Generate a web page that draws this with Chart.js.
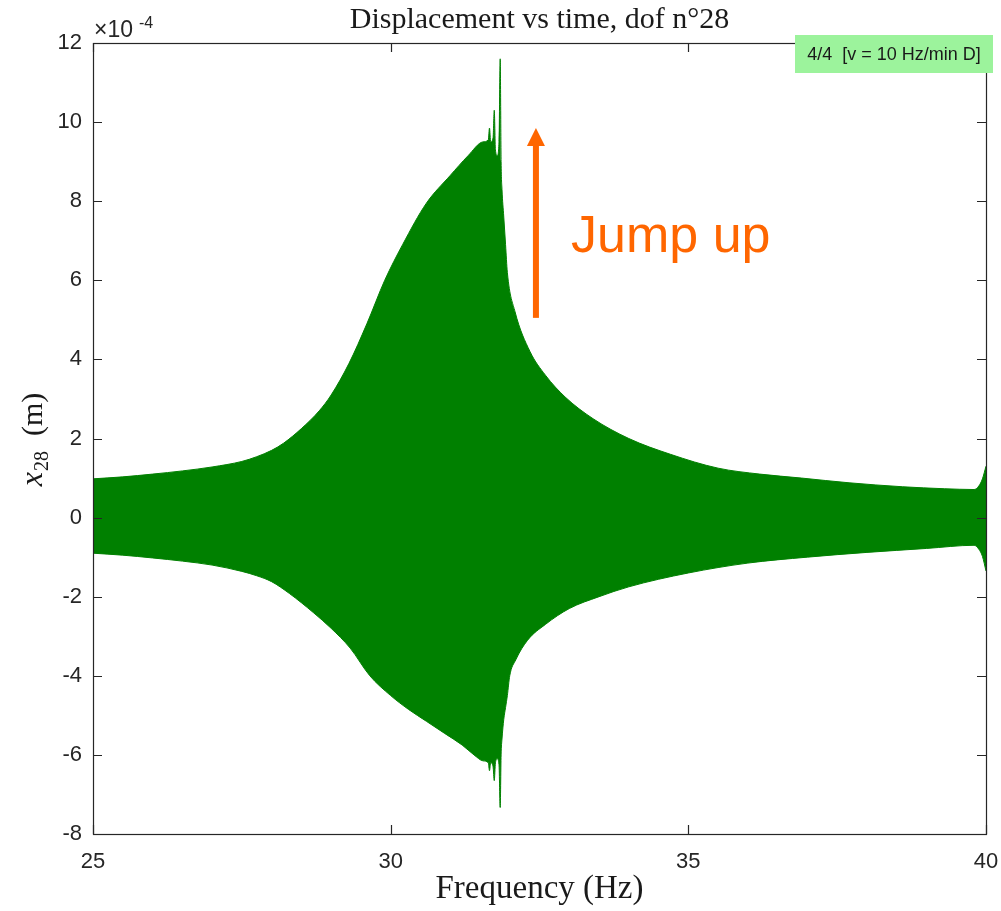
<!DOCTYPE html>
<html lang="en">
<head>
    <meta charset="UTF-8">
    <title>Displacement vs time, dof n°28</title>
    <script src="https://cdn.jsdelivr.net/npm/chart.js"></script>
    <style>
        body { margin: 0; padding: 0; background: #ffffff; }
        #wrap { width: 1001px; height: 911px; position: relative; }
    </style>
</head>
<body>
    <div id="wrap">
        <canvas id="chartCanvas" width="1001" height="911"></canvas>
    </div>

    <script>
        // envelope of the response, values in 1e-4 m
        const upperFreq = [25.0, 25.5, 26.0, 26.5, 27.0, 27.5, 27.75, 28.0, 28.2, 28.5, 28.8, 29.0, 29.3, 29.6, 29.9, 30.2, 30.6, 31.0, 31.3, 31.55, 31.64, 31.66, 31.68, 31.72, 31.74, 31.76, 31.79, 31.82, 31.84, 31.855, 31.87, 31.9, 31.93, 31.96, 32.09, 32.34, 32.6, 32.93, 33.4, 34.0, 34.7, 35.5, 36.2, 36.9, 37.7, 38.6, 39.3, 39.8, 39.88, 39.94, 40.0];
        const upperVal  = [0.98, 1.03, 1.1, 1.18, 1.28, 1.42, 1.54, 1.7, 1.88, 2.25, 2.7, 3.1, 3.9, 4.9, 6.0, 6.9, 7.95, 8.65, 9.15, 9.5, 9.55, 9.85, 9.5, 9.6, 10.3, 9.3, 9.15, 9.5, 11.6, 9.0, 8.3, 7.6, 6.9, 6.2, 5.2, 4.2, 3.6, 3.05, 2.5, 2.0, 1.6, 1.25, 1.1, 1.0, 0.88, 0.78, 0.73, 0.71, 0.8, 0.98, 1.3];

        const lowerFreq = [25.0, 25.5, 26.0, 26.5, 27.0, 27.5, 27.75, 28.0, 28.3, 28.7, 29.0, 29.32, 29.65, 30.0, 30.3, 30.6, 30.9, 31.2, 31.4, 31.55, 31.64, 31.66, 31.68, 31.72, 31.74, 31.76, 31.79, 31.82, 31.84, 31.855, 31.87, 31.9, 31.93, 31.96, 32.0, 32.1, 32.3, 32.6, 33.0, 33.5, 34.0, 35.0, 36.0, 37.0, 38.0, 39.0, 39.8, 39.88, 39.94, 40.0];
        const lowerVal  = [-0.9, -0.95, -1.02, -1.1, -1.2, -1.36, -1.47, -1.62, -1.92, -2.4, -2.8, -3.3, -4.0, -4.5, -4.85, -5.15, -5.45, -5.75, -6.0, -6.15, -6.2, -6.4, -6.2, -6.3, -6.65, -6.2, -6.1, -6.25, -7.33, -6.0, -5.6, -5.1, -4.8, -4.5, -4.0, -3.6, -3.1, -2.7, -2.3, -2.0, -1.75, -1.4, -1.15, -1.0, -0.88, -0.78, -0.7, -0.8, -0.98, -1.35];

        const xTicks = [25, 30, 35, 40];
        const yTicks = [-8, -6, -4, -2, 0, 2, 4, 6, 8, 10, 12];

        // "Jump up" annotation, in data units
        const arrowX = 32.44;
        const arrowFrom = 5.05;
        const arrowTo = 9.85;
        const noteX = 33.03;
        const noteY = 6.72;

        const green = '#008000';
        const orange = '#ff6600';
        const axisColor = '#262626';

        function toPoints(xs, ys) {
            return xs.map((x, i) => ({ x: x, y: ys[i] }));
        }

        // box, inward ticks and all the extra text
        const decorPlugin = {
            id: 'decor',
            afterDatasetsDraw(chart) {
                const ctx = chart.ctx;
                const a = chart.chartArea;
                const xs = chart.scales.x;
                const ys = chart.scales.y;
                ctx.save();

                // arrow
                const ax = xs.getPixelForValue(arrowX);
                const y0 = ys.getPixelForValue(arrowFrom);
                const y1 = ys.getPixelForValue(arrowTo);
                ctx.fillStyle = orange;
                ctx.fillRect(ax - 3, y1 + 16, 6, y0 - y1 - 16);
                ctx.beginPath();
                ctx.moveTo(ax, y1);
                ctx.lineTo(ax + 9, y1 + 18);
                ctx.lineTo(ax - 9, y1 + 18);
                ctx.closePath();
                ctx.fill();

                ctx.font = '52px "Liberation Sans", Arial, sans-serif';
                ctx.textAlign = 'left';
                ctx.textBaseline = 'alphabetic';
                ctx.fillText('Jump up', xs.getPixelForValue(noteX), ys.getPixelForValue(noteY));

                // axes box
                ctx.strokeStyle = axisColor;
                ctx.lineWidth = 1.2;
                ctx.strokeRect(a.left + 0.5, a.top + 0.5, a.right - a.left, a.bottom - a.top);
                ctx.beginPath();
                xTicks.forEach(v => {
                    const px = Math.round(xs.getPixelForValue(v)) + 0.5;
                    ctx.moveTo(px, a.bottom); ctx.lineTo(px, a.bottom - 9);
                    ctx.moveTo(px, a.top); ctx.lineTo(px, a.top + 9);
                });
                yTicks.forEach(v => {
                    const py = Math.round(ys.getPixelForValue(v)) + 0.5;
                    ctx.moveTo(a.left, py); ctx.lineTo(a.left + 9, py);
                    ctx.moveTo(a.right, py); ctx.lineTo(a.right - 9, py);
                });
                ctx.stroke();

                // legend-like label top right
                ctx.fillStyle = '#9cf39c';
                ctx.fillRect(795, 35, 198, 38);
                ctx.fillStyle = '#1a1a1a';
                ctx.font = '18px "Liberation Sans", Arial, sans-serif';
                ctx.textBaseline = 'middle';
                ctx.textAlign = 'center';
                ctx.fillText('4/4  [v = 10 Hz/min D]', 894, 55);

                // exponent
                ctx.fillStyle = axisColor;
                ctx.textAlign = 'left';
                ctx.textBaseline = 'alphabetic';
                ctx.font = '23px "Liberation Sans", Arial, sans-serif';
                ctx.fillText('\u00d710', 94, 37);
                ctx.font = '16px "Liberation Sans", Arial, sans-serif';
                ctx.fillText('-4', 139, 28);

                // title
                ctx.fillStyle = '#1a1a1a';
                ctx.textAlign = 'center';
                ctx.font = '30px "Liberation Serif", serif';
                ctx.fillText('Displacement vs time, dof n\u00b028', (a.left + a.right) / 2, 28);

                // x title
                ctx.font = '33px "Liberation Serif", serif';
                ctx.fillText('Frequency (Hz)', (a.left + a.right) / 2, 898);

                // y title, rotated, with subscript
                ctx.translate(42, 440);
                ctx.rotate(-Math.PI / 2);
                ctx.textAlign = 'left';
                ctx.font = 'italic 32px "Liberation Serif", serif';
                const wX = ctx.measureText('x').width;
                ctx.font = '20px "Liberation Serif", serif';
                const wSub = ctx.measureText('28').width;
                ctx.font = '30px "Liberation Serif", serif';
                const wM = ctx.measureText('  (m)').width;
                let sx = -(wX + wSub + wM) / 2;
                ctx.font = 'italic 32px "Liberation Serif", serif';
                ctx.fillText('x', sx, 0);
                sx += wX + 1;
                ctx.font = '20px "Liberation Serif", serif';
                ctx.fillText('28', sx, 6);
                sx += wSub;
                ctx.font = '30px "Liberation Serif", serif';
                ctx.fillText('  (m)', sx, 0);

                ctx.restore();
            }
        };

        const ctx = document.getElementById('chartCanvas').getContext('2d');
        const chart = new Chart(ctx, {
            type: 'line',
            data: {
                datasets: [{
                    label: 'upper',
                    data: toPoints(upperFreq, upperVal),
                    borderColor: green,
                    borderWidth: 1,
                    pointRadius: 0,
                    cubicInterpolationMode: 'monotone',
                    fill: false
                }, {
                    label: 'lower',
                    data: toPoints(lowerFreq, lowerVal),
                    borderColor: green,
                    backgroundColor: green,
                    borderWidth: 1,
                    pointRadius: 0,
                    cubicInterpolationMode: 'monotone',
                    fill: '-1'
                }]
            },
            options: {
                responsive: false,
                animation: false,
                layout: { padding: { top: 43, right: 15, left: 0, bottom: 0 } },
                plugins: {
                    legend: { display: false },
                    tooltip: { enabled: false },
                    title: { display: false }
                },
                scales: {
                    x: {
                        type: 'linear',
                        min: 25,
                        max: 40,
                        afterBuildTicks: axis => { axis.ticks = xTicks.map(v => ({ value: v })); },
                        afterFit: axis => {
                            axis.height = 77;
                            axis.paddingLeft = 0;
                            axis.paddingRight = 0;
                        },
                        grid: { display: false },
                        border: { display: false },
                        ticks: {
                            padding: 7,
                            color: axisColor,
                            maxRotation: 0,
                            font: { family: '"Liberation Sans", Arial, sans-serif', size: 22 }
                        }
                    },
                    y: {
                        type: 'linear',
                        min: -8,
                        max: 12,
                        afterBuildTicks: axis => { axis.ticks = yTicks.map(v => ({ value: v })); },
                        afterFit: axis => { axis.width = 93; },
                        grid: { display: false },
                        border: { display: false },
                        ticks: {
                            padding: 3,
                            color: axisColor,
                            font: { family: '"Liberation Sans", Arial, sans-serif', size: 22 }
                        }
                    }
                }
            },
            plugins: [decorPlugin]
        });
    </script>
</body>
</html>
